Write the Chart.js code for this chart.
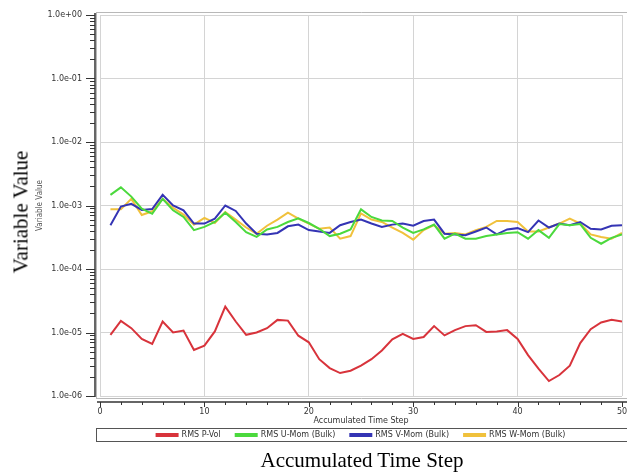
<!DOCTYPE html>
<html>
<head>
<meta charset="utf-8">
<script src="https://cdn.jsdelivr.net/npm/chart.js@4"></script>
<style>
html,body{margin:0;padding:0;background:#fff;}
#wrap{position:relative;width:627px;height:472px;overflow:hidden;background:#fff;}
#c{position:absolute;left:0;top:0;}
.big{position:absolute;font-family:"Liberation Serif","Times New Roman",serif;font-size:21px;color:#000;white-space:nowrap;line-height:1;}
#ylab{left:21px;top:212px;transform:translate(-50%,-50%) rotate(-90deg);}
#xlab{left:362px;top:460px;transform:translate(-50%,-50%);}
</style>
</head>
<body>
<div id="wrap">
<canvas id="c" width="627" height="472"></canvas>
<div class="big" id="ylab">Variable Value</div>
<div class="big" id="xlab">Accumulated Time Step</div>
</div>
<script>
const steps = [1,2,3,4,5,6,7,8,9,10,11,12,13,14,15,16,17,18,19,20,21,22,23,24,25,26,27,28,29,30,31,32,33,34,35,36,37,38,39,40,41,42,43,44,45,46,47,48,49,50];

const pVol = [9.2e-6,1.52e-5,1.17e-5,7.9e-6,6.6e-6,1.49e-5,1.0e-5,1.07e-5,5.3e-6,6.2e-6,
              1.04e-5,2.56e-5,1.49e-5,9.2e-6,1.0e-5,1.17e-5,1.58e-5,1.54e-5,8.9e-6,7.0e-6,
              3.8e-6,2.75e-6,2.3e-6,2.5e-6,3.0e-6,3.8e-6,5.2e-6,7.8e-6,9.5e-6,7.9e-6,
              8.5e-6,1.26e-5,9.0e-6,1.09e-5,1.26e-5,1.3e-5,1.02e-5,1.04e-5,1.09e-5,7.9e-6,
              4.4e-6,2.7e-6,1.72e-6,2.14e-6,3.0e-6,6.8e-6,1.13e-5,1.44e-5,1.58e-5,1.49e-5];

const uMom = [1.47e-3,1.93e-3,1.38e-3,8.9e-4,7.4e-4,1.27e-3,8.4e-4,6.6e-4,4.1e-4,4.6e-4,
              5.5e-4,7.7e-4,5.5e-4,3.8e-4,3.2e-4,4.2e-4,4.6e-4,5.5e-4,6.3e-4,5.3e-4,
              4.3e-4,3.3e-4,3.6e-4,4.2e-4,8.7e-4,6.6e-4,5.8e-4,5.7e-4,4.5e-4,3.7e-4,
              4.2e-4,5.0e-4,3.0e-4,3.6e-4,3.0e-4,3.0e-4,3.3e-4,3.5e-4,3.7e-4,3.8e-4,
              3.0e-4,4.1e-4,3.1e-4,5.1e-4,4.9e-4,5.1e-4,3.1e-4,2.5e-4,3.1e-4,3.5e-4];

const vMom = [4.9e-4,9.6e-4,1.06e-3,8.5e-4,8.8e-4,1.47e-3,1.0e-3,8.4e-4,5.2e-4,5.2e-4,
              6.2e-4,1.0e-3,8.2e-4,5.2e-4,3.6e-4,3.5e-4,3.7e-4,4.7e-4,5.0e-4,4.1e-4,
              3.9e-4,3.7e-4,4.9e-4,5.5e-4,6.0e-4,5.2e-4,4.6e-4,5.0e-4,5.2e-4,4.8e-4,
              5.7e-4,6.0e-4,3.6e-4,3.5e-4,3.4e-4,3.9e-4,4.5e-4,3.5e-4,4.2e-4,4.4e-4,
              3.8e-4,5.8e-4,4.5e-4,5.2e-4,4.9e-4,5.5e-4,4.3e-4,4.2e-4,4.8e-4,4.9e-4];

const wMom = [8.7e-4,8.7e-4,1.27e-3,7.1e-4,8.1e-4,1.27e-3,9.2e-4,7.2e-4,5.0e-4,6.4e-4,
              5.3e-4,7.9e-4,6.0e-4,4.5e-4,3.6e-4,4.8e-4,6.0e-4,7.7e-4,6.2e-4,5.2e-4,
              4.3e-4,4.5e-4,3.0e-4,3.3e-4,7.5e-4,6.0e-4,5.5e-4,4.5e-4,3.7e-4,2.9e-4,
              4.1e-4,4.9e-4,3.6e-4,3.7e-4,3.5e-4,4.1e-4,4.6e-4,5.7e-4,5.7e-4,5.5e-4,
              3.9e-4,3.9e-4,4.5e-4,5.2e-4,6.2e-4,5.2e-4,3.5e-4,3.2e-4,3.0e-4,3.7e-4];

const seriesNames = ['RMS P-Vol','RMS U-Mom (Bulk)','RMS V-Mom (Bulk)','RMS W-Mom (Bulk)'];
const yTicks = [1e-6,1e-5,1e-4,1e-3,1e-2,1e-1,1];
const yTickLabels = ['1.0e-06','1.0e-05','1.0e-04','1.0e-03','1.0e-02','1.0e-01','1.0e+00'];
const yMinorFactors = [2,3,4,5,6,7,8,9];
const xMin = 0, xMax = 50, xMajorStep = 10, xMinorStep = 2;

const colors = ['#d8333b','#4bd93d','#3434b4','#f0c13c'];
const smallFont = {family:'"DejaVu Sans", Verdana, sans-serif', size:8};

function pts(arr){ return steps.map((s,i)=>({x:s,y:arr[i]})); }
function ds(i, arr){
  return {label:seriesNames[i], data:pts(arr), borderColor:colors[i], backgroundColor:colors[i],
          borderWidth:2, pointRadius:0, pointHoverRadius:0, tension:0, fill:false};
}

const axisDeco = {
  id:'axisDeco',
  beforeDatasetsDraw(chart){
    const {ctx, chartArea:a} = chart;
    ctx.save();
    ctx.strokeStyle = '#b8b8b8'; ctx.lineWidth = 1;
    ctx.beginPath();
    ctx.moveTo(a.left-3.5, 12.5); ctx.lineTo(627, 12.5);
    ctx.moveTo(a.left-3.5, 12); ctx.lineTo(a.left-3.5, a.bottom+3);
    ctx.moveTo(a.left-3.5, a.bottom+2.5); ctx.lineTo(627, a.bottom+2.5);
    ctx.stroke();
    ctx.restore();
  },
  afterDraw(chart){
    const {ctx, chartArea:a, scales:{x,y}} = chart;
    ctx.save();
    ctx.strokeStyle = '#333'; ctx.lineWidth = 1.5;
    const ax = a.left - 5;
    ctx.beginPath(); ctx.moveTo(ax, 13); ctx.lineTo(ax, a.bottom+1); ctx.stroke();
    ctx.lineWidth = 1;
    ctx.beginPath();
    yTicks.forEach((v,i)=>{
      const py = Math.round(y.getPixelForValue(v))+0.5;
      ctx.moveTo(ax-9, py); ctx.lineTo(ax, py);
      if(i < yTicks.length-1){
        yMinorFactors.forEach(f=>{
          const pm = Math.round(y.getPixelForValue(v*f))+0.5;
          ctx.moveTo(ax-5, pm); ctx.lineTo(ax, pm);
        });
      }
    });
    ctx.stroke();
    const ay = a.bottom + 6;
    ctx.lineWidth = 1.5;
    ctx.beginPath(); ctx.moveTo(a.left-3, ay); ctx.lineTo(627, ay); ctx.stroke();
    ctx.lineWidth = 1;
    ctx.beginPath();
    for(let t=xMin; t<=xMax; t+=xMinorStep){
      const px = Math.round(x.getPixelForValue(t))+0.5;
      ctx.moveTo(px, ay); ctx.lineTo(px, ay + (t % xMajorStep === 0 ? 5 : 3));
    }
    for(let t=xMin; t<=xMax; t+=xMajorStep){
      const px = Math.round(x.getPixelForValue(t))+0.5;
      ctx.moveTo(px, ay); ctx.lineTo(px, ay+5);
    }
    ctx.stroke();
    const lg = chart.legend;
    if(lg && lg.legendHitBoxes && lg.legendHitBoxes.length){
      const hb = lg.legendHitBoxes[0];
      const cy = hb.top + hb.height/2;
      ctx.strokeStyle = '#555'; ctx.lineWidth = 1;
      ctx.strokeRect(96.5, Math.round(cy-7)+0.5, 540, 13);
    }
    ctx.restore();
  }
};

new Chart(document.getElementById('c'), {
  type:'line',
  data:{ datasets:[ds(0,pVol), ds(1,uMom), ds(2,vMom), ds(3,wMom)] },
  options:{
    responsive:false, animation:false, devicePixelRatio:1,
    layout:{padding:{left:0, right:5, top:15, bottom:23}},
    plugins:{
      legend:{position:'bottom', fullSize:false,
        labels:{boxWidth:21, boxHeight:2, padding:15, color:'#333', font:smallFont}},
      tooltip:{enabled:false},
      title:{display:false}
    },
    scales:{
      x:{type:'linear', min:xMin, max:xMax,
        afterFit(s){ s.height = 20; s.paddingLeft = 0; s.paddingRight = 0; },
        ticks:{stepSize:xMajorStep, padding:11, color:'#333', font:smallFont, maxRotation:0, autoSkip:false},
        grid:{color:'#d4d4d4', drawTicks:false, lineWidth:1},
        border:{display:false},
        title:{display:true, text:'Accumulated Time Step', color:'#333', font:smallFont, padding:{top:0, bottom:-10}}
      },
      y:{type:'logarithmic', min:yTicks[0], max:yTicks[yTicks.length-1],
        afterFit(s){ s.width = 100; s.paddingTop = 0; s.paddingBottom = 0; },
        afterBuildTicks(s){ s.ticks = yTicks.map(v=>({value:v, major:true})); },
        ticks:{padding:18, color:'#333', font:smallFont, autoSkip:false,
          callback:(v,i)=>yTickLabels[i]},
        grid:{color:'#d4d4d4', drawTicks:false, lineWidth:1},
        border:{display:false},
        title:{display:true, text:'Variable Value', color:'#555',
          font:{family:'"Liberation Sans Narrow", "DejaVu Sans Condensed", sans-serif', size:8},
          padding:{top:35, bottom:0}}
      }
    }
  },
  plugins:[axisDeco]
});
</script>
</body>
</html>
